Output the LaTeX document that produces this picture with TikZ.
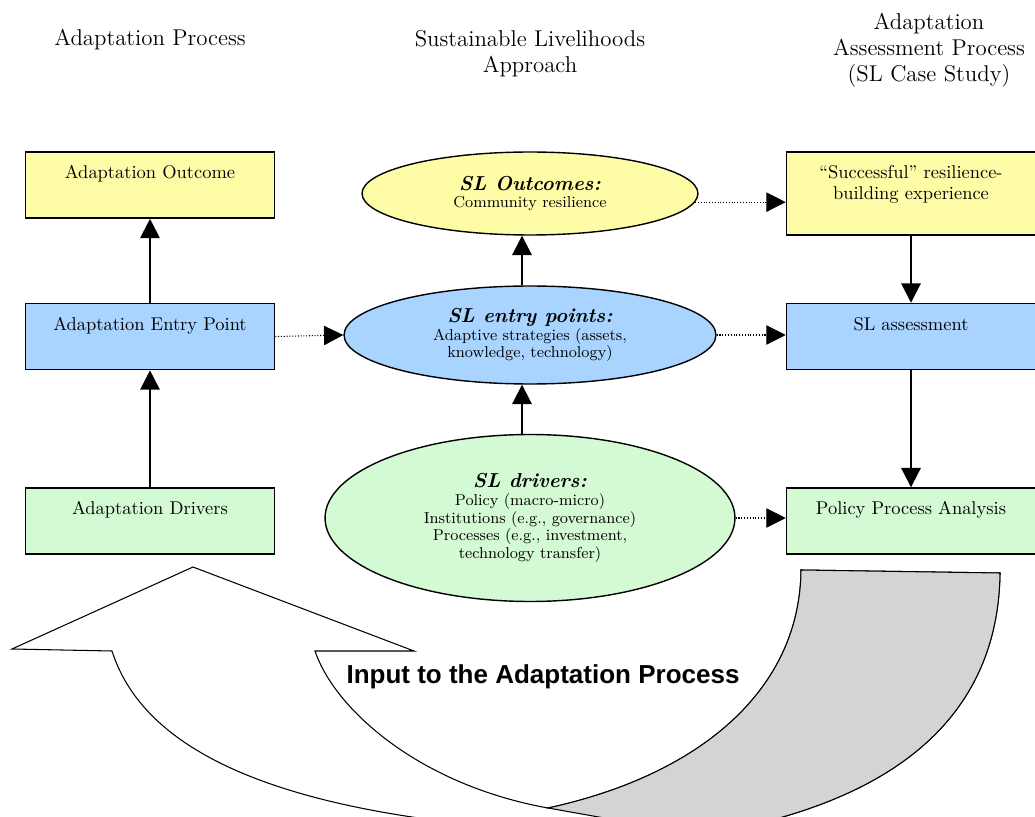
\documentclass[tikz,border=0pt]{standalone}
\usepackage{fontspec}
\newfontfamily\arrowfont{Liberation Sans}
\usepackage{xcolor}
\usetikzlibrary{arrows.meta,positioning,shapes.geometric}
\definecolor{ylw}{RGB}{255,252,168}
\definecolor{blu}{RGB}{168,212,255}
\definecolor{grn}{RGB}{212,250,212}
\definecolor{gry}{RGB}{212,212,212}

\begin{document}
\begin{tikzpicture}[
  x=0.02cm, y=-0.02cm,
  node distance = 1.68cm,
  box/.style = {
    rectangle, draw, line width=0.9pt,
    minimum width=4.98cm, minimum height=1.32cm, inner sep=0pt
  },
  boxlbl/.style = {
    anchor=north, inner sep=0pt, yshift=-0.28cm, align=center,
    font=\fontsize{10.5}{12}\selectfont
  },
  oval/.style = {
    ellipse, draw, line width=0.8pt, inner sep=0pt, align=center,
    font=\fontsize{9}{10}\selectfont
  },
  head/.style = {align=center, font=\fontsize{13}{14.7}\selectfont},
  arr/.style = {-{Triangle[length=11pt,width=11pt]}, line width=1.1pt},
  dotarr/.style = {-{Triangle[length=11pt,width=11pt]}, line width=0.6pt, dash pattern=on 0.6pt off 1pt}
]
  \useasboundingbox (0,0) rectangle (1035,817);

  % column headings
  \node[head] (hleft)  at (150,40) {Adaptation Process};
  \node[head] (hmid)   at (530,54) {Sustainable Livelihoods\\Approach};
  \node[head] (hright) at (929,50) {Adaptation\\Assessment Process\\(SL Case Study)};

  % adaptation process
  \node[box, fill=ylw, label={[boxlbl]north:Adaptation Outcome}] (outc) at (150,185) {};
  \node[box, fill=blu, below=of outc, label={[boxlbl]north:Adaptation Entry Point}] (entbox) {};
  \node[box, fill=grn, below=2.34cm of entbox, label={[boxlbl]north:Adaptation Drivers}] (drvbox) {};

  % sustainable livelihoods
  \node[oval, fill=ylw, minimum width=6.72cm, minimum height=1.66cm] (slout) at (530,193.5)
    {{\fontsize{11.5}{13}\selectfont\bfseries\itshape SL Outcomes:}\\Community resilience};
  \node[oval, fill=blu, minimum width=7.44cm, minimum height=1.96cm] (slent) at (530,335)
    {{\fontsize{11.5}{13}\selectfont\bfseries\itshape SL entry points:}\\Adaptive strategies (assets,\\knowledge, technology)};
  \node[oval, fill=grn, minimum width=8.2cm, minimum height=3.34cm] (sldrv) at (530,518)
    {{\fontsize{11.5}{13}\selectfont\bfseries\itshape SL drivers:}\\Policy (macro-micro)\\Institutions (e.g., governance)\\Processes (e.g., investment,\\technology transfer)};

  % assessment process
  \node[box, fill=ylw, minimum height=1.66cm, label={[boxlbl]north:“Successful” resilience-\\building experience}] (succ) at (911,193.5) {};
  \node[box, fill=blu, below=1.34cm of succ, label={[boxlbl]north:SL assessment}] (asm) {};
  \node[box, fill=grn, below=2.34cm of asm, label={[boxlbl]north:Policy Process Analysis}] (pol) {};

  \draw[arr] (entbox) -- (outc);
  \draw[arr] (drvbox) -- (entbox);
  \draw[arr] ([xshift=-0.16cm]slent.north) -- ([xshift=-0.16cm]slout.south);
  \draw[arr] ([xshift=-0.16cm]sldrv.north) -- ([xshift=-0.16cm]slent.south);
  \draw[arr] (succ) -- (asm);
  \draw[arr] (asm) -- (pol);

  \draw[dotarr] (entbox.east) -- (slent.west);
  \draw[dotarr] (slout.-3) -- (slout.-3 -| succ.west);
  \draw[dotarr] (slent.east) -- (slent.east -| asm.west);
  \draw[dotarr] (sldrv.east) -- (sldrv.east -| pol.west);

  % curved input arrow
  \begin{scope}
    \clip (0,0) rectangle (1035,817);
    \draw[fill=white, line width=0.6pt] (12,649) -- (193,567) -- (414,651) -- (315,651)
      .. controls (335,710) and (420,785) .. (548,808)
      .. controls (700,775) and (800,690) .. (801,570)
      -- (1000,573)
      .. controls (998,720) and (890,805) .. (700,835)
      .. controls (330,835) and (150,770) .. (112,651) -- cycle;
    \draw[fill=gry, line width=0.6pt] (548,808)
      .. controls (700,775) and (800,690) .. (801,570)
      -- (1000,573)
      .. controls (998,720) and (890,805) .. (700,835) -- cycle;
  \end{scope}
  \node[font=\arrowfont\bfseries\fontsize{14.8}{17}\selectfont] (inlbl) at (543,677) {Input to the Adaptation Process};
\end{tikzpicture}
\end{document}
